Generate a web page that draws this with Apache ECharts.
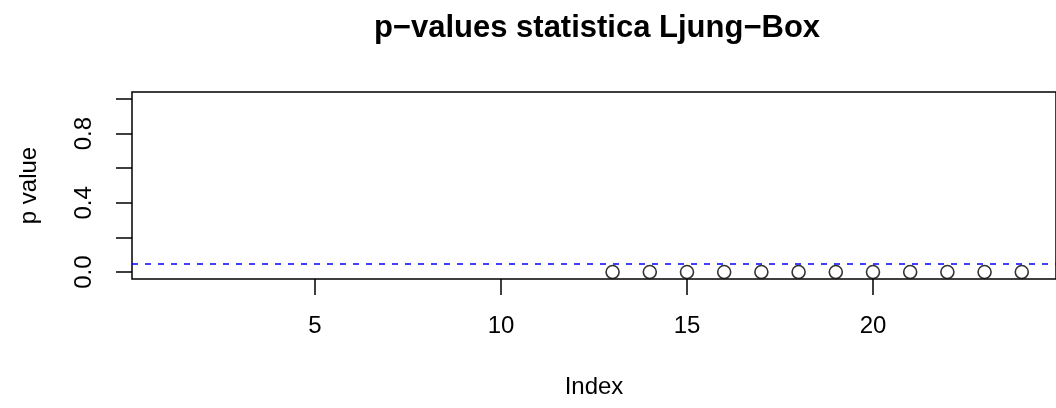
<!DOCTYPE html>
<html>
<head>
<meta charset="utf-8">
<script src="https://cdn.jsdelivr.net/npm/echarts@6/dist/echarts.min.js"></script>
<style>
  html, body { margin: 0; padding: 0; background: #ffffff; }
  #chart { width: 1056px; height: 408px; }
</style>
</head>
<body>
<div id="chart"></div>
<script>
// Lags 1..24; Ljung-Box p-values are only available from lag 13 on
const lags = [1, 2, 3, 4, 5, 6, 7, 8, 9, 10, 11, 12, 13, 14, 15, 16, 17, 18, 19, 20, 21, 22, 23, 24];
const pValues = [null, null, null, null, null, null, null, null, null, null, null, null,
                 0.0, 0.0, 0.0, 0.0, 0.0, 0.0, 0.0, 0.0, 0.0, 0.0, 0.0, 0.0];
const significance = 0.05;
const xTicks = [5, 10, 15, 20];
const yTicks = [0, 0.2, 0.4, 0.6, 0.8, 1.0];
const yLabels = [0, 0.4, 0.8];

const font = '"Liberation Sans", Arial, Helvetica, sans-serif';

const chart = echarts.init(document.getElementById('chart'), null, { renderer: 'canvas' });

chart.setOption({
  animation: false,
  backgroundColor: '#ffffff',
  title: {
    text: 'p\u2212values statistica Ljung\u2212Box',
    left: 592,
    textAlign: 'center',
    top: 8,
    textStyle: { fontFamily: font, fontSize: 31, fontWeight: 'bold', color: '#000000' }
  },
  grid: {
    left: 132,
    top: 92,
    width: 931,
    height: 187,
    show: true,
    borderColor: '#000000',
    borderWidth: 1.5,
    backgroundColor: 'transparent'
  },
  xAxis: {
    type: 'value',
    min: 0.08,
    max: 24.92,
    name: 'Index',
    nameLocation: 'middle',
    nameGap: 96,
    nameTextStyle: { fontFamily: font, fontSize: 24, color: '#000000' },
    axisLine: { show: false, onZero: false },
    splitLine: { show: false },
    axisTick: {
      show: true,
      customValues: xTicks,
      length: 16,
      lineStyle: { color: '#000000', width: 1.5 }
    },
    axisLabel: {
      customValues: xTicks,
      margin: 35,
      fontFamily: font,
      fontSize: 24,
      color: '#000000'
    }
  },
  yAxis: {
    type: 'value',
    min: -0.04,
    max: 1.04,
    name: 'p value',
    nameLocation: 'middle',
    nameGap: 91,
    nameRotate: 90,
    nameTextStyle: { fontFamily: font, fontSize: 24, color: '#000000' },
    axisLine: { show: false, onZero: false },
    splitLine: { show: false },
    axisTick: {
      show: true,
      customValues: yTicks,
      length: 16,
      lineStyle: { color: '#000000', width: 1.5 }
    },
    axisLabel: {
      customValues: yLabels,
      rotate: 90,
      margin: 36,
      fontFamily: font,
      fontSize: 24,
      color: '#000000',
      formatter: v => v.toFixed(1)
    }
  },
  series: [{
    type: 'scatter',
    data: lags.map((l, i) => [l, pValues[i]]).filter(d => d[1] !== null),
    symbol: 'circle',
    symbolSize: 13,
    itemStyle: { color: '#ffffff', borderColor: '#000000', borderWidth: 1.6 },
    markLine: {
      silent: true,
      symbol: ['none', 'none'],
      label: { show: false },
      lineStyle: { color: '#0000ff', type: [6, 7], width: 1.6 },
      data: [{ yAxis: significance }]
    }
  }]
});
</script>
</body>
</html>
